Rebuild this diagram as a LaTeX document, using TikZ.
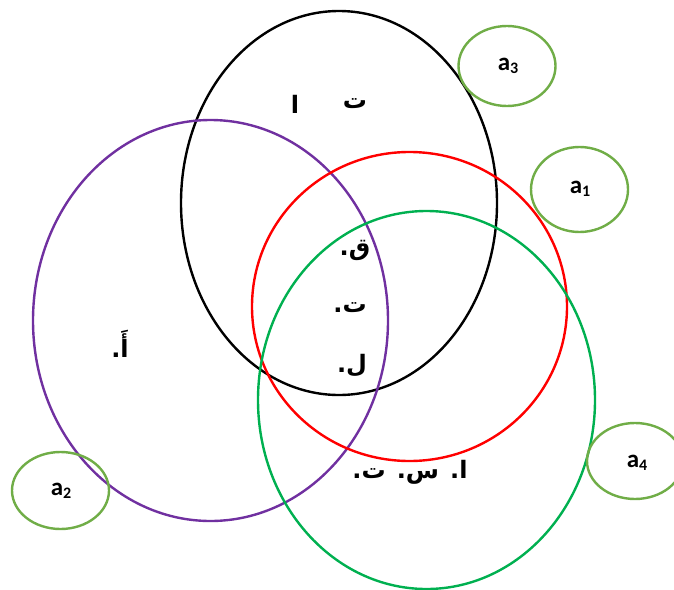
\documentclass[tikz,border=0pt]{standalone}
\usepackage{fontspec}
\setmainfont{Carlito}
\newfontfamily\arabicfont[Script=Arabic]{DejaVu Sans}
\TeXXeTstate=1
\definecolor{setpurple}{HTML}{7030A0}
\definecolor{setred}{HTML}{FF0000}
\definecolor{setgreen}{HTML}{00B050}
\definecolor{tagGreen}{HTML}{70AD47}
\newcommand{\tagsub}[1]{\raisebox{-0.12em}{\fontsize{16}{18}\selectfont #1}}
\begin{document}
\begin{tikzpicture}[x=1pt,y=-1pt,
  setline/.style={line width=2.4pt},
  tagline/.style={draw=tagGreen,line width=2.4pt},
  tagtext/.style={font=\fontsize{25}{28}\selectfont\bfseries},
  artext/.style={font=\fontsize{24}{28}\selectfont\arabicfont\bfseries}]
\useasboundingbox (0,0) rectangle (674,589);
% the four main sets
\draw[setline,black] (339,203) ellipse [x radius=158,y radius=192];
\draw[setline,setpurple] (210.5,320.5) ellipse [x radius=177.5,y radius=200.5];
\draw[setline,setred] (409.5,306.5) ellipse [x radius=157.5,y radius=154.5];
\draw[setline,setgreen] (426.5,400) ellipse [x radius=168.5,y radius=189];
% small labelled sets
\draw[tagline] (507,66) ellipse [x radius=48.5,y radius=40];
\node[tagtext] (a3) at (508,66) {a\tagsub{3}};
\draw[tagline] (579.5,189.5) ellipse [x radius=48.5,y radius=42.5];
\node[tagtext] (a1) at (580,189) {a\tagsub{1}};
\draw[tagline] (60.5,490.5) ellipse [x radius=48.5,y radius=38.5];
\node[tagtext] (a2) at (61,491) {a\tagsub{2}};
\draw[tagline] (635,461) ellipse [x radius=48,y radius=38];
\node[tagtext] (a4) at (637,463) {a\tagsub{4}};
% element labels
\node[artext] (t1) at (355,104) {\beginR ت\endR};
\node[artext] (alef) at (295,104) {\beginR ا\endR};
\node[artext] (q) at (355,250) {\beginR ق.\endR};
\node[artext] (t2) at (350,308) {\beginR ت.\endR};
\node[artext] (l) at (352,366) {\beginR ل.\endR};
\node[artext] (hamza) at (120,344) {\beginR أَ.\endR};
\node[artext] (ast) at (410,472) {\beginR ا. س. ت.\endR};
\end{tikzpicture}
\end{document}
